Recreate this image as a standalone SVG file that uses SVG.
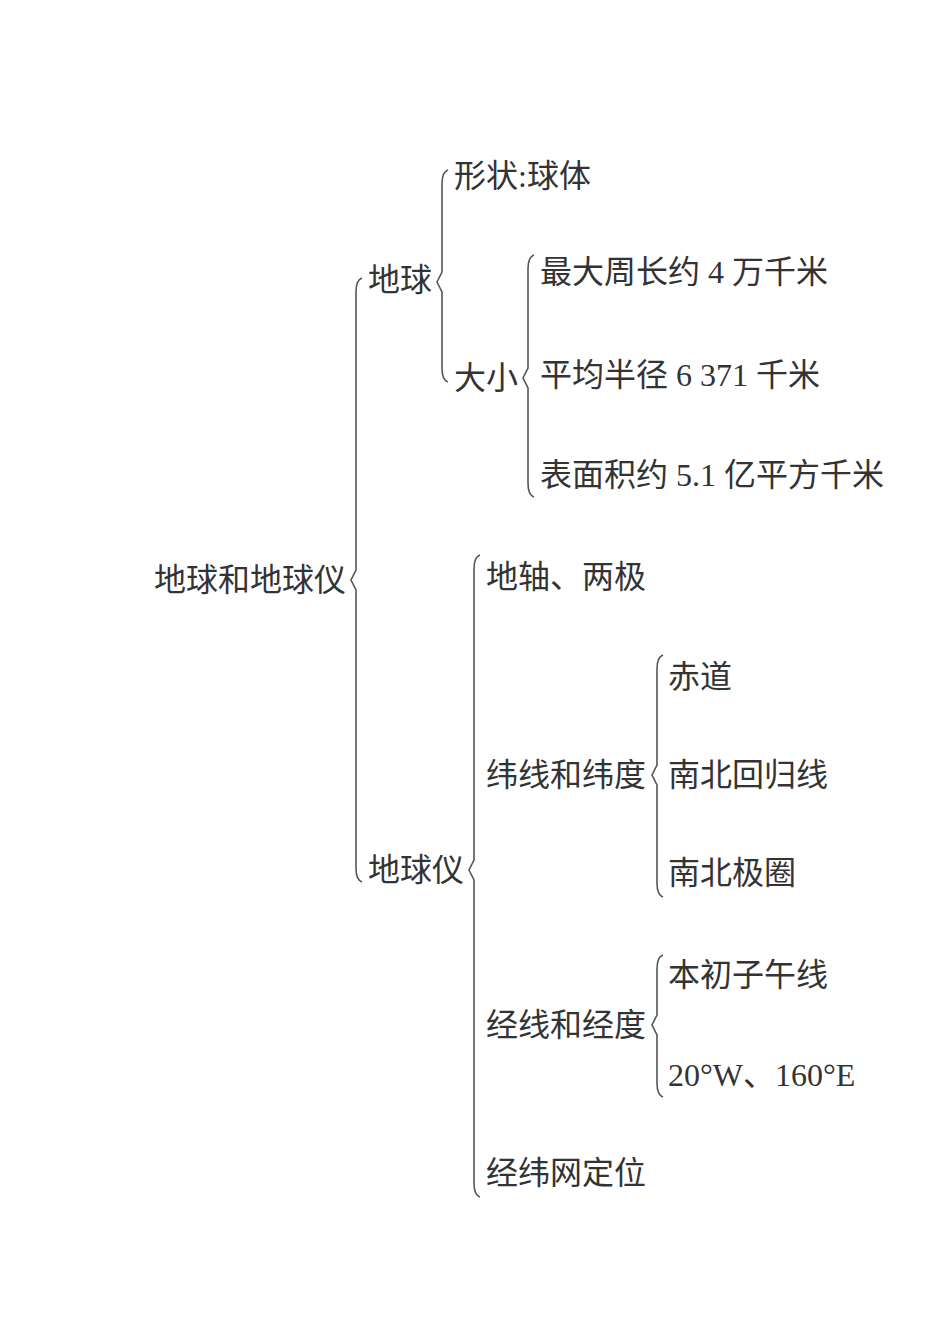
<svg xmlns="http://www.w3.org/2000/svg" width="950" height="1344" viewBox="0 0 950 1344">
<style>
text{font-family:"Liberation Serif","Noto Sans CJK SC",serif;font-size:32px;fill:#333;dominant-baseline:central}
.b{fill:none;stroke:#555;stroke-width:1.6}
</style>
<rect width="950" height="1344" fill="#fff"/>
<g id="connectors">
<path class="b" d="M362,278 Q356,280 356,292 L356,570 L351,580 L356,590 L356,868 Q356,880 362,882"/>
<path class="b" d="M448,170 Q442,172 442,184 L442,272 L437,282 L442,292 L442,368 Q442,380 448,382"/>
<path class="b" d="M534,255 Q528,257 528,269 L528,368 L523,378 L528,388 L528,483 Q528,495 534,497"/>
<path class="b" d="M480,555 Q474,557 474,569 L474,860 L469,870 L474,880 L474,1183 Q474,1195 480,1197"/>
<path class="b" d="M663,655 Q657,657 657,669 L657,765 L652,775 L657,785 L657,883 Q657,895 663,897"/>
<path class="b" d="M663,955 Q657,957 657,969 L657,1015 L652,1025 L657,1035 L657,1083 Q657,1095 663,1097"/>
</g>
<g id="root"><text x="154" y="580">地球和地球仪</text></g>
<g id="diqiu"><text x="368" y="280">地球</text></g>
<g id="xingzhuang"><text x="454" y="176">形状:球体</text></g>
<g id="daxiao"><text x="454" y="378">大小</text></g>
<g id="zhouchang"><text x="540" y="272">最大周长约 4 万千米</text></g>
<g id="banjing"><text x="540" y="375">平均半径 6 371 千米</text></g>
<g id="mianji"><text x="540" y="475">表面积约 5.1 亿平方千米</text></g>
<g id="diqiuyi"><text x="368" y="870">地球仪</text></g>
<g id="dizhou"><text x="486" y="577">地轴、两极</text></g>
<g id="weixian"><text x="486" y="775">纬线和纬度</text></g>
<g id="chidao"><text x="668" y="677">赤道</text></g>
<g id="huiguixian"><text x="668" y="775">南北回归线</text></g>
<g id="jiquan"><text x="668" y="873">南北极圈</text></g>
<g id="jingxian"><text x="486" y="1025">经线和经度</text></g>
<g id="benchu"><text x="668" y="975">本初子午线</text></g>
<g id="jingdu"><text x="668" y="1075">20°W、160°E</text></g>
<g id="jingweiwang"><text x="486" y="1173">经纬网定位</text></g>
</svg>
